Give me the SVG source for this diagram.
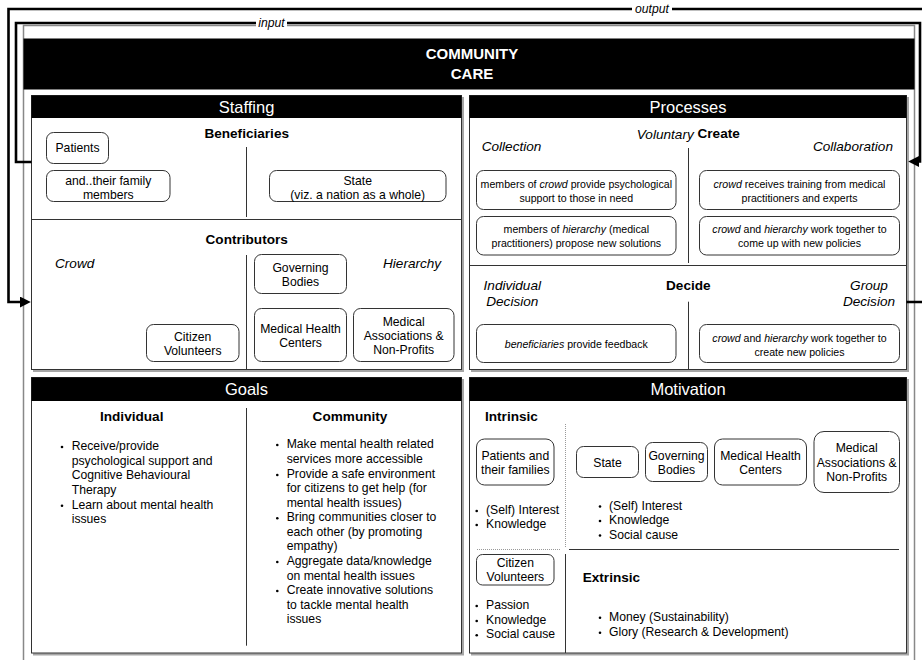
<svg xmlns="http://www.w3.org/2000/svg" width="922" height="660" viewBox="0 0 922 660">
  <defs>
    <marker id="arrow" viewBox="0 0 10 10" refX="2" refY="5" markerWidth="11" markerHeight="11" markerUnits="userSpaceOnUse" orient="auto">
      <path d="M0,0 L10,5 L0,10 z" fill="#000"/>
    </marker>
    <filter id="shadow" x="-5%" y="-5%" width="115%" height="115%">
      <feDropShadow dx="2" dy="2" stdDeviation="0.5" flood-color="#000" flood-opacity="0.35"/>
    </filter>
  </defs>
  <style>
    text { font-family: "Liberation Sans", Arial, Helvetica, sans-serif; fill: #000; }
    .t { font-size: 12.2px; text-anchor: middle; dominant-baseline: central; }
    .tl { font-size: 12.2px; dominant-baseline: central; }
    .s { font-size: 10.6px; text-anchor: middle; dominant-baseline: central; }
    .h { font-size: 13.6px; font-weight: bold; text-anchor: middle; dominant-baseline: central; }
    .hl { font-size: 13.6px; font-weight: bold; dominant-baseline: central; }
    .lab { font-size: 13.6px; font-style: italic; dominant-baseline: central; }
    .labc { font-size: 13.6px; font-style: italic; text-anchor: middle; dominant-baseline: central; }
    .title { font-size: 16.5px; fill: #fff; text-anchor: middle; dominant-baseline: central; }
    .main { font-size: 15px; font-weight: bold; fill: #fff; text-anchor: middle; dominant-baseline: central; }
    .wl { font-size: 12.2px; font-style: italic; text-anchor: middle; dominant-baseline: central; }
    .i { font-style: italic; }
    .box { fill: #fff; stroke: #333; stroke-width: 1; }
    .panel { fill: #fff; stroke: #333; stroke-width: 1; filter: url(#shadow); }
    .bar { fill: #000; }
    .div { stroke: #333; stroke-width: 1; fill: none; }
    .dot { stroke: #999; stroke-width: 1; stroke-dasharray: 1 1; fill: none; }
    .frame { fill: none; stroke: #888; stroke-width: 1.5; }
    .wire { fill: none; stroke: #000; stroke-width: 2.6; }
    .bul { fill: #000; }
  </style>

  <rect x="0" y="0" width="922" height="660" fill="#fff"/>

  <!-- outer container -->
  <g id="community-care">
    <rect class="frame" x="23.5" y="25.5" width="891" height="700"/>
    <rect class="bar" x="23.5" y="38.5" width="891" height="51"/>
    <text class="main" x="472" y="53">COMMUNITY</text>
    <text class="main" x="472" y="73">CARE</text>
  </g>

  <!-- Staffing panel -->
  <g id="staffing">
    <rect class="panel" x="31.5" y="95.5" width="430" height="274"/>
    <rect class="bar" x="31.5" y="95.5" width="430" height="22.5"/>
    <text class="title" x="246.5" y="107">Staffing</text>
    <text class="h" x="246.7" y="133">Beneficiaries</text>
    <line class="div" x1="246.5" y1="147" x2="246.5" y2="217"/>
    <line class="div" x1="31.5" y1="219.5" x2="461.5" y2="219.5"/>
    <text class="h" x="246.7" y="239.5">Contributors</text>
    <text class="lab" x="55" y="263">Crowd</text>
    <text class="lab" x="383" y="263">Hierarchy</text>
    <line class="div" x1="246.5" y1="255" x2="246.5" y2="369.5"/>
  </g>
  <g id="staff-patients">
    <rect class="box" x="46.5" y="132.5" width="62" height="31" rx="7"/>
    <text class="t" x="77.5" y="148">Patients</text>
  </g>
  <g id="staff-family">
    <rect class="box" x="46.5" y="170.5" width="123.5" height="31" rx="7"/>
    <text class="t" x="108.3" y="180.5">and..their family</text>
    <text class="t" x="108.3" y="194.5">members</text>
  </g>
  <g id="staff-state">
    <rect class="box" x="269.5" y="170.5" width="176.5" height="31" rx="7"/>
    <text class="t" x="357.7" y="180.5">State</text>
    <text class="t" x="357.7" y="194.5">(viz. a nation as a whole)</text>
  </g>
  <g id="staff-governing">
    <rect class="box" x="254.5" y="254.5" width="92" height="39" rx="7"/>
    <text class="t" x="300.5" y="267.7">Governing</text>
    <text class="t" x="300.5" y="281.7">Bodies</text>
  </g>
  <g id="staff-centers">
    <rect class="box" x="254.5" y="308.5" width="92" height="53" rx="7"/>
    <text class="t" x="300.5" y="329">Medical Health</text>
    <text class="t" x="300.5" y="343.3">Centers</text>
  </g>
  <g id="staff-associations">
    <rect class="box" x="353.5" y="308.5" width="100.5" height="53" rx="7"/>
    <text class="t" x="403.7" y="321.7">Medical</text>
    <text class="t" x="403.7" y="335.7">Associations &amp;</text>
    <text class="t" x="403.7" y="350">Non-Profits</text>
  </g>
  <g id="staff-volunteers">
    <rect class="box" x="146.5" y="324.5" width="92.5" height="37" rx="7"/>
    <text class="t" x="192.7" y="336.7">Citizen</text>
    <text class="t" x="192.7" y="350.7">Volunteers</text>
  </g>

  <!-- Processes panel -->
  <g id="processes">
    <rect class="panel" x="469.5" y="95.5" width="437" height="274"/>
    <rect class="bar" x="469.5" y="95.5" width="437" height="22.5"/>
    <text class="title" x="688" y="107">Processes</text>
    <text class="h" x="688.3" y="133.5"><tspan font-style="italic" font-weight="normal">Voluntary</tspan> Create</text>
    <text class="lab" x="481.7" y="146.7">Collection</text>
    <text class="lab" x="893" y="146.7" text-anchor="end">Collaboration</text>
    <line class="div" x1="688.5" y1="148" x2="688.5" y2="263"/>
    <line class="div" x1="469.5" y1="265.5" x2="906.5" y2="265.5"/>
    <text class="labc" x="512.3" y="285.7">Individual</text>
    <text class="labc" x="512.3" y="301.7">Decision</text>
    <text class="h" x="688.3" y="285.7">Decide</text>
    <text class="labc" x="869" y="285.7">Group</text>
    <text class="labc" x="869" y="301.7">Decision</text>
    <line class="div" x1="688.5" y1="301.7" x2="688.5" y2="369.5"/>
  </g>
  <g id="proc-support">
    <rect class="box" x="476.5" y="170.5" width="199.5" height="39" rx="7"/>
    <text class="s" x="576.3" y="184.3">members of <tspan class="i">crowd</tspan> provide psychological</text>
    <text class="s" x="576.3" y="198.3">support to those in need</text>
  </g>
  <g id="proc-solutions">
    <rect class="box" x="476.5" y="216.5" width="199.5" height="38.5" rx="7"/>
    <text class="s" x="576.3" y="229.3">members of <tspan class="i">hierarchy</tspan> (medical</text>
    <text class="s" x="576.3" y="243.3">practitioners) propose new solutions</text>
  </g>
  <g id="proc-training">
    <rect class="box" x="699.5" y="170.5" width="200" height="39" rx="7"/>
    <text class="s" x="799.5" y="184.3"><tspan class="i">crowd</tspan> receives training from medical</text>
    <text class="s" x="799.5" y="198.3">practitioners and experts</text>
  </g>
  <g id="proc-policies">
    <rect class="box" x="699.5" y="216.5" width="200" height="38.5" rx="7"/>
    <text class="s" x="799.5" y="229.3"><tspan class="i">crowd</tspan> and <tspan class="i">hierarchy</tspan> work together to</text>
    <text class="s" x="799.5" y="243.3">come up with new policies</text>
  </g>
  <g id="proc-feedback">
    <rect class="box" x="476.5" y="324.5" width="199.5" height="38" rx="7"/>
    <text class="s" x="576.3" y="344"><tspan class="i">beneficiaries</tspan> provide feedback</text>
  </g>
  <g id="proc-group">
    <rect class="box" x="699.5" y="324.5" width="200" height="38" rx="7"/>
    <text class="s" x="799.5" y="338">
      <tspan class="i">crowd</tspan> and <tspan class="i">hierarchy</tspan> work together to</text>
    <text class="s" x="799.5" y="351.5">create new policies</text>
  </g>

  <!-- Goals panel -->
  <g id="goals">
    <rect class="panel" x="31.5" y="377.5" width="430" height="275.5"/>
    <rect class="bar" x="31.5" y="377.5" width="430" height="23.5"/>
    <text class="title" x="246.5" y="389.3">Goals</text>
    <text class="h" x="131.7" y="416.7">Individual</text>
    <text class="h" x="350" y="416.7">Community</text>
    <line class="div" x1="246.5" y1="408" x2="246.5" y2="645.7"/>
    <circle class="bul" cx="62" cy="447" r="1.3"/>
    <circle class="bul" cx="62" cy="505.7" r="1.3"/>
    <text class="tl" x="71.7" y="446">Receive/provide</text>
    <text class="tl" x="71.7" y="460.7">psychological support and</text>
    <text class="tl" x="71.7" y="475.3">Cognitive Behavioural</text>
    <text class="tl" x="71.7" y="490">Therapy</text>
    <text class="tl" x="71.7" y="504.7">Learn about mental health</text>
    <text class="tl" x="71.7" y="519.3">issues</text>
    <circle class="bul" cx="277.3" cy="445" r="1.3"/>
    <circle class="bul" cx="277.3" cy="475" r="1.3"/>
    <circle class="bul" cx="277.3" cy="518.3" r="1.3"/>
    <circle class="bul" cx="277.3" cy="562" r="1.3"/>
    <circle class="bul" cx="277.3" cy="591" r="1.3"/>
    <text class="tl" x="286.7" y="444">Make mental health related</text>
    <text class="tl" x="286.7" y="458.7">services more accessible</text>
    <text class="tl" x="286.7" y="474">Provide a safe environment</text>
    <text class="tl" x="286.7" y="488">for citizens to get help (for</text>
    <text class="tl" x="286.7" y="502.7">mental health issues)</text>
    <text class="tl" x="286.7" y="517.3">Bring communities closer to</text>
    <text class="tl" x="286.7" y="531.7">each other (by promoting</text>
    <text class="tl" x="286.7" y="546">empathy)</text>
    <text class="tl" x="286.7" y="561">Aggregate data/knowledge</text>
    <text class="tl" x="286.7" y="575.7">on mental health issues</text>
    <text class="tl" x="286.7" y="590">Create innovative solutions</text>
    <text class="tl" x="286.7" y="605">to tackle mental health</text>
    <text class="tl" x="286.7" y="619">issues</text>
  </g>

  <!-- Motivation panel -->
  <g id="motivation">
    <rect class="panel" x="469.5" y="377.5" width="437" height="275.5"/>
    <rect class="bar" x="469.5" y="377.5" width="437" height="23.5"/>
    <text class="title" x="688" y="389.3">Motivation</text>
    <text class="hl" x="485" y="416.7">Intrinsic</text>
    <line class="dot" x1="565.5" y1="424" x2="565.5" y2="547"/>
    <line class="dot" x1="477" y1="549.5" x2="561" y2="549.5"/>
    <line class="div" x1="569" y1="549.5" x2="899" y2="549.5"/>
    <line class="div" x1="565.5" y1="554" x2="565.5" y2="653"/>
    <text class="hl" x="582.7" y="577.3">Extrinsic</text>
    <circle class="bul" cx="476.7" cy="511" r="1.3"/>
    <circle class="bul" cx="476.7" cy="525" r="1.3"/>
    <text class="tl" x="486" y="510">(Self) Interest</text>
    <text class="tl" x="486" y="524">Knowledge</text>
    <circle class="bul" cx="600" cy="506.5" r="1.3"/>
    <circle class="bul" cx="600" cy="521" r="1.3"/>
    <circle class="bul" cx="600" cy="535.5" r="1.3"/>
    <text class="tl" x="609" y="505.5">(Self) Interest</text>
    <text class="tl" x="609" y="520">Knowledge</text>
    <text class="tl" x="609" y="534.5">Social cause</text>
    <circle class="bul" cx="476.7" cy="606" r="1.3"/>
    <circle class="bul" cx="476.7" cy="621" r="1.3"/>
    <circle class="bul" cx="476.7" cy="635.3" r="1.3"/>
    <text class="tl" x="486" y="605">Passion</text>
    <text class="tl" x="486" y="620">Knowledge</text>
    <text class="tl" x="486" y="634.3">Social cause</text>
    <circle class="bul" cx="600" cy="617.7" r="1.3"/>
    <circle class="bul" cx="600" cy="632.7" r="1.3"/>
    <text class="tl" x="609" y="616.7">Money (Sustainability)</text>
    <text class="tl" x="609" y="631.7">Glory (Research &amp; Development)</text>
  </g>
  <g id="mot-patients">
    <rect class="box" x="476.5" y="439" width="77.5" height="46" rx="8"/>
    <text class="t" x="515.3" y="455.7">Patients and</text>
    <text class="t" x="515.3" y="470">their families</text>
  </g>
  <g id="mot-state">
    <rect class="box" x="576.5" y="446.5" width="62" height="31" rx="7"/>
    <text class="t" x="607.5" y="462.7">State</text>
  </g>
  <g id="mot-governing">
    <rect class="box" x="645.5" y="442.5" width="62" height="39" rx="7"/>
    <text class="t" x="676.5" y="455.7">Governing</text>
    <text class="t" x="676.5" y="470">Bodies</text>
  </g>
  <g id="mot-centers">
    <rect class="box" x="714.5" y="439" width="92" height="46" rx="8"/>
    <text class="t" x="760.5" y="455.7">Medical Health</text>
    <text class="t" x="760.5" y="470">Centers</text>
  </g>
  <g id="mot-associations">
    <rect class="box" x="814" y="431.5" width="85.5" height="61" rx="10"/>
    <text class="t" x="856.7" y="447.7">Medical</text>
    <text class="t" x="856.7" y="462.7">Associations &amp;</text>
    <text class="t" x="856.7" y="476.7">Non-Profits</text>
  </g>
  <g id="mot-volunteers">
    <rect class="box" x="476.5" y="554.5" width="77.5" height="30.5" rx="6"/>
    <text class="t" x="515.3" y="562.7">Citizen</text>
    <text class="t" x="515.3" y="577.3">Volunteers</text>
  </g>

  <!-- connectors -->
  <g id="connectors">
    <path class="wire" d="M906.5,302 H934 V9 H8.5 V302 H22" marker-end="url(#arrow)"/>
    <path class="wire" d="M31.5,162 H16 V23 H920 V161.5 H917" marker-end="url(#arrow)"/>
    <rect x="632" y="2" width="40" height="14" fill="#fff"/>
    <text class="wl" x="652" y="9">output</text>
    <rect x="256" y="16" width="31" height="14" fill="#fff"/>
    <text class="wl" x="271.5" y="23">input</text>
  </g>
</svg>
